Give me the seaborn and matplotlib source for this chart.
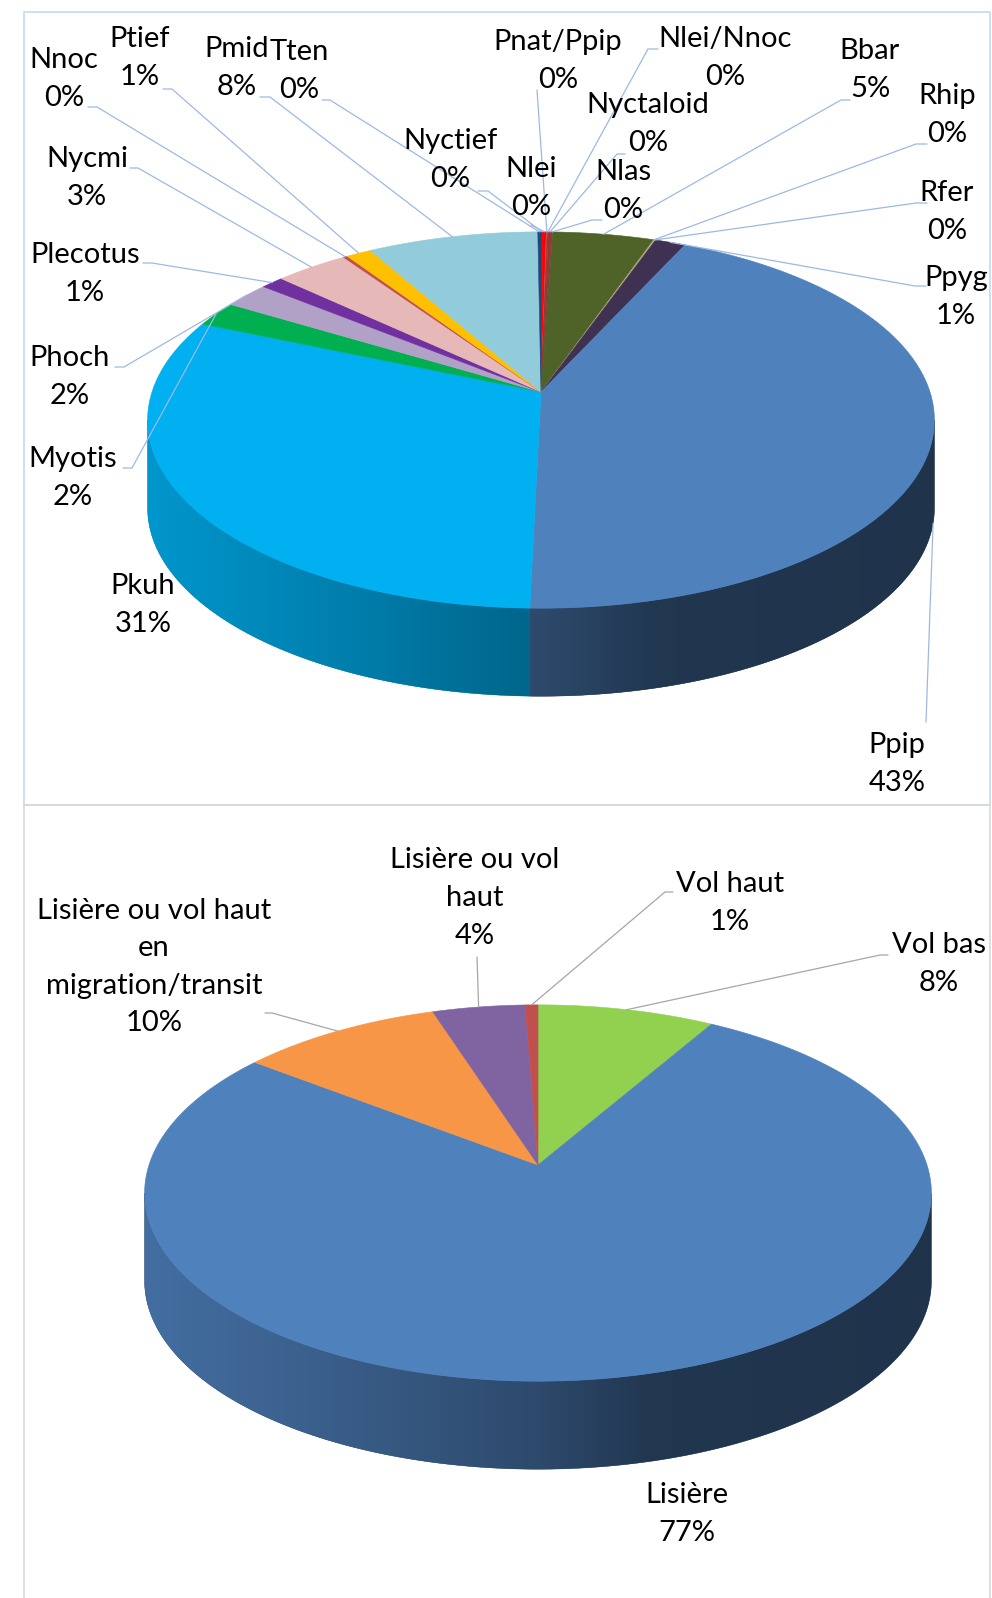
import numpy as np
import matplotlib
matplotlib.use("Agg")
import matplotlib.pyplot as plt
from matplotlib.patches import Polygon
from matplotlib.colors import to_rgb
import seaborn as sns

# --- donnees : especes (ordre horaire depuis midi) ---
species = ["Nyctief", "Nlei", "Pnat/Ppip", "Nlei/Nnoc", "Nyctaloid", "Nlas", "Bbar",
           "Rhip", "Rfer", "Ppyg", "Ppip", "Pkuh", "Myotis", "Phoch", "Plecotus",
           "Nycmi", "Nnoc", "Ptief", "Pmid", "Tten"]
species_pct = [0.10, 0.15, 0.05, 0.05, 0.15, 0.05, 4.80,
               0.05, 0.05, 1.45, 43.49, 31.00, 2.17, 2.20, 1.10,
               3.49, 0.20, 1.20, 8.10, 0.15]
species_colors = ["#FF0000", "#FF0000", "#C0504D", "#953735", "#953735", "#953735", "#4F6228",
                  "#948A54", "#C4BD97", "#3F3151", "#4F81BD", "#00B0F0", "#00B050", "#B2A1C7", "#7030A0",
                  "#E6B9B8", "#C0504D", "#FFC000", "#92CBDA", "#1F497D"]

# --- donnees : type de vol ---
flight = ["Vol bas", "Lisière", "Lisière ou vol haut\nen\nmigration/transit", "Lisière ou vol\nhaut", "Vol haut"]
flight_pct = [8.4, 77.0, 9.6, 4.4, 0.6]
flight_colors = ["#92D050", "#4F81BD", "#F79646", "#8064A2", "#C0504D"]

# --- mise en page des etiquettes (centre du texte, depart du trait, coude) ---
species_text_xy = [(450, 160), (531, 188), (558, 61), (725, 58), (648, 124), (623, 191), (870, 70),
                   (947, 115), (947, 212), (956, 297), (897, 764), (143, 605), (73, 478), (70, 377),
                   (85, 274), (87, 178), (64, 79), (140, 58), (237, 68), (299, 71)]
species_leader = [(478, 191, 488), (531, 225, 531), (537, 90, 537), (658, 49, 648), (625, 154, 617),
                  (602, 220, 592), (850, 100, 841), (927, 144, 916), (927, 203, 916), (926, 286, 915),
                  (926, 722, 926), None, (123, 468, 132), (115, 367, 124), (143, 263, 152),
                  (130, 168, 138), (88, 107, 97), (163, 89, 172), (260, 97, 270), (322, 100, 330)]
flight_text_xy = [(939, 964), (687, 1514), (154, 967), (475, 898), (730, 903)]
flight_leader = [(888, 955, 880), None, (265, 1013, 272), (477, 957, 477), (673, 892, 665)]

# geometrie du camembert 3D (perspective)
A, B, P, D = 389.0, 184.0, 0.149, 88.0
SHADE_U = [-1.0, -0.5, 0.0, 0.3, 1.0]
SHADE_F = [0.85, 0.72, 0.57, 0.42, 0.40]


def rim(phi_deg, cx, cy):
    phi = np.radians(phi_deg)
    u = np.sin(phi)
    v = -np.cos(phi)
    w = 1 - P * v
    return cx + A * u / w, cy + B * v / w


def draw_pie(ax, values, colors, cx, cy):
    fr = np.asarray(values, dtype=float)
    fr = fr / fr.sum()
    edges = np.concatenate([[0.0], np.cumsum(fr)]) * 360
    lo = 90 + np.degrees(np.arcsin(P))
    hi = 270 - np.degrees(np.arcsin(P))
    # flancs, avec degrade horizontal
    for a0, a1, c in zip(edges[:-1], edges[1:], colors):
        s0, s1 = max(a0, lo), min(a1, hi)
        if s1 <= s0:
            continue
        n = max(2, int((s1 - s0) / 0.4) + 2)
        x, y = rim(np.linspace(s0, s1, n), cx, cy)
        pts = np.r_[np.c_[x, y], np.c_[x[::-1], y[::-1] + D]]
        rgb = np.array(to_rgb(c))
        fmid = np.interp((x.mean() - cx) / A, SHADE_U, SHADE_F)
        patch = Polygon(pts, closed=True, fc=rgb * fmid, ec=rgb * fmid, lw=0.3, zorder=1)
        ax.add_patch(patch)
        xs = np.linspace(x.min() - 2, x.max() + 2, 300)
        f = np.interp((xs - cx) / A, SHADE_U, SHADE_F)
        img = np.clip(rgb[None, None, :] * f[None, :, None], 0, 1)
        im = ax.imshow(img, extent=(xs[0], xs[-1], y.max() + D + 2, y.min() - 2),
                       aspect="auto", interpolation="bilinear", zorder=1.5)
        im.set_clip_path(patch)
    for a0, a1, c in zip(edges[:-1], edges[1:], colors):
        n = max(2, int((a1 - a0) / 0.5) + 2)
        x, y = rim(np.linspace(a0, a1, n), cx, cy)
        ax.fill(np.r_[cx, x], np.r_[cy, y], color=c, ec=c, lw=0.4, zorder=2)
    # point d'accroche des traits : milieu de chaque part
    mids = (edges[:-1] + edges[1:]) / 2
    tx, ty = rim(mids, cx, cy)
    front = -np.cos(np.radians(mids)) > P
    ty = np.where(front, ty + D, ty)
    return fr, tx, ty


def draw_labels(ax, names, fr, tx, ty, text_xy, leaders, line_color):
    for i, name in enumerate(names):
        x, y = text_xy[i]
        ax.text(x, y, f"{name}\n{fr[i] * 100:.0f}%", ha="center", va="center",
                fontsize=21, linespacing=1.55, color="black", zorder=4)
        if leaders[i] is not None:
            lx, ly, kx = leaders[i]
            ax.plot([lx, kx, tx[i]], [ly, ly, ty[i]], color=line_color, lw=0.9,
                    solid_joinstyle="miter", zorder=3)


sns.set_theme(style="white")
plt.rcParams["font.family"] = ["Lato", "DejaVu Sans"]

fig = plt.figure(figsize=(9.92, 15.98), dpi=100, facecolor="white")
ax = fig.add_axes([0, 0, 1, 1])
ax.axis("off")

# cadres
ax.plot([24, 990, 990, 24, 24], [805, 805, 12, 12, 805], color="#C6D9F1", lw=1.2)
ax.plot([24, 24], [805, 1598], color="#D9D9D9", lw=1.2)
ax.plot([990, 990], [805, 1598], color="#D9D9D9", lw=1.2)
ax.plot([24, 990], [805, 805], color="#D9D9D9", lw=1.2)

fr1, tx1, ty1 = draw_pie(ax, species_pct, species_colors, 541, 392)
draw_labels(ax, species, fr1, tx1, ty1, species_text_xy, species_leader, "#9DB9E3")

fr2, tx2, ty2 = draw_pie(ax, flight_pct, flight_colors, 538, 1165)
draw_labels(ax, flight, fr2, tx2, ty2, flight_text_xy, flight_leader, "#A6A6A6")

ax.set_xlim(0, 992)
ax.set_ylim(1598, 0)
fig.savefig("out.png", dpi=100, facecolor="white")
